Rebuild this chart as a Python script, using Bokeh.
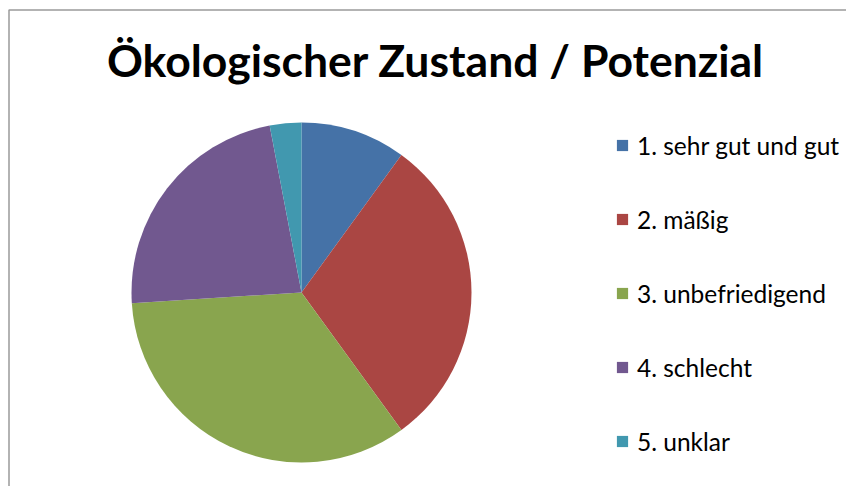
import numpy as np
from bokeh.plotting import figure
from bokeh.models import Range1d, ColumnDataSource, Legend, LegendItem, Label
from bokeh.embed import file_html
from bokeh.resources import INLINE

title_text = "Ökologischer Zustand / Potenzial"
categories = ["1. sehr gut und gut", "2. mäßig", "3. unbefriedigend", "4. schlecht", "5. unklar"]
values = [10, 30, 34, 23, 3]
colors = ["#4572A7", "#AA4643", "#89A54E", "#71588F", "#4198AF"]

W, H = 846, 486
p = figure(width=W, height=H, output_backend="svg", toolbar_location=None,
           x_range=Range1d(0, W), y_range=Range1d(0, H), min_border=0)
p.axis.visible = False
p.grid.visible = False
p.outline_line_color = None
p.background_fill_color = "white"
p.border_fill_color = "white"

# chart area border
p.quad(left=[8.5], right=[W + 20], bottom=[-20], top=[H - 9.5],
       fill_color=None, line_color="#9a9a9a", line_width=1.5)

vals = np.array(values, dtype=float)
frac = vals / vals.sum()
cum = np.concatenate([[0], np.cumsum(frac)])
start = np.pi / 2 - 2 * np.pi * cum[:-1]
end = np.pi / 2 - 2 * np.pi * cum[1:]
src = ColumnDataSource(dict(start=start, end=end, color=colors, label=categories))
cx, cy, r = 301, H - 292, 170
wr = p.wedge(x=cx, y=cy, radius=r, start_angle="start", end_angle="end",
             direction="clock", fill_color="color", line_color=None, source=src)

items = [LegendItem(label=categories[i], renderers=[wr], index=i) for i in range(len(categories))]
legend = Legend(items=items, location=(615, 30), glyph_width=14, glyph_height=14,
                label_height=30, spacing=44, padding=0, margin=0, label_standoff=8,
                label_text_font="Lato", label_text_font_size="24.5px",
                label_text_color="black", border_line_color=None,
                background_fill_alpha=0)
p.add_layout(legend, "center")

p.add_layout(Label(x=435, y=H - 59, text=title_text, text_align="center",
                   text_baseline="middle", text_font="Lato", text_font_style="bold",
                   text_font_size="44.5px", text_color="black"))

open("out.html", "w").write(file_html(p, INLINE))
